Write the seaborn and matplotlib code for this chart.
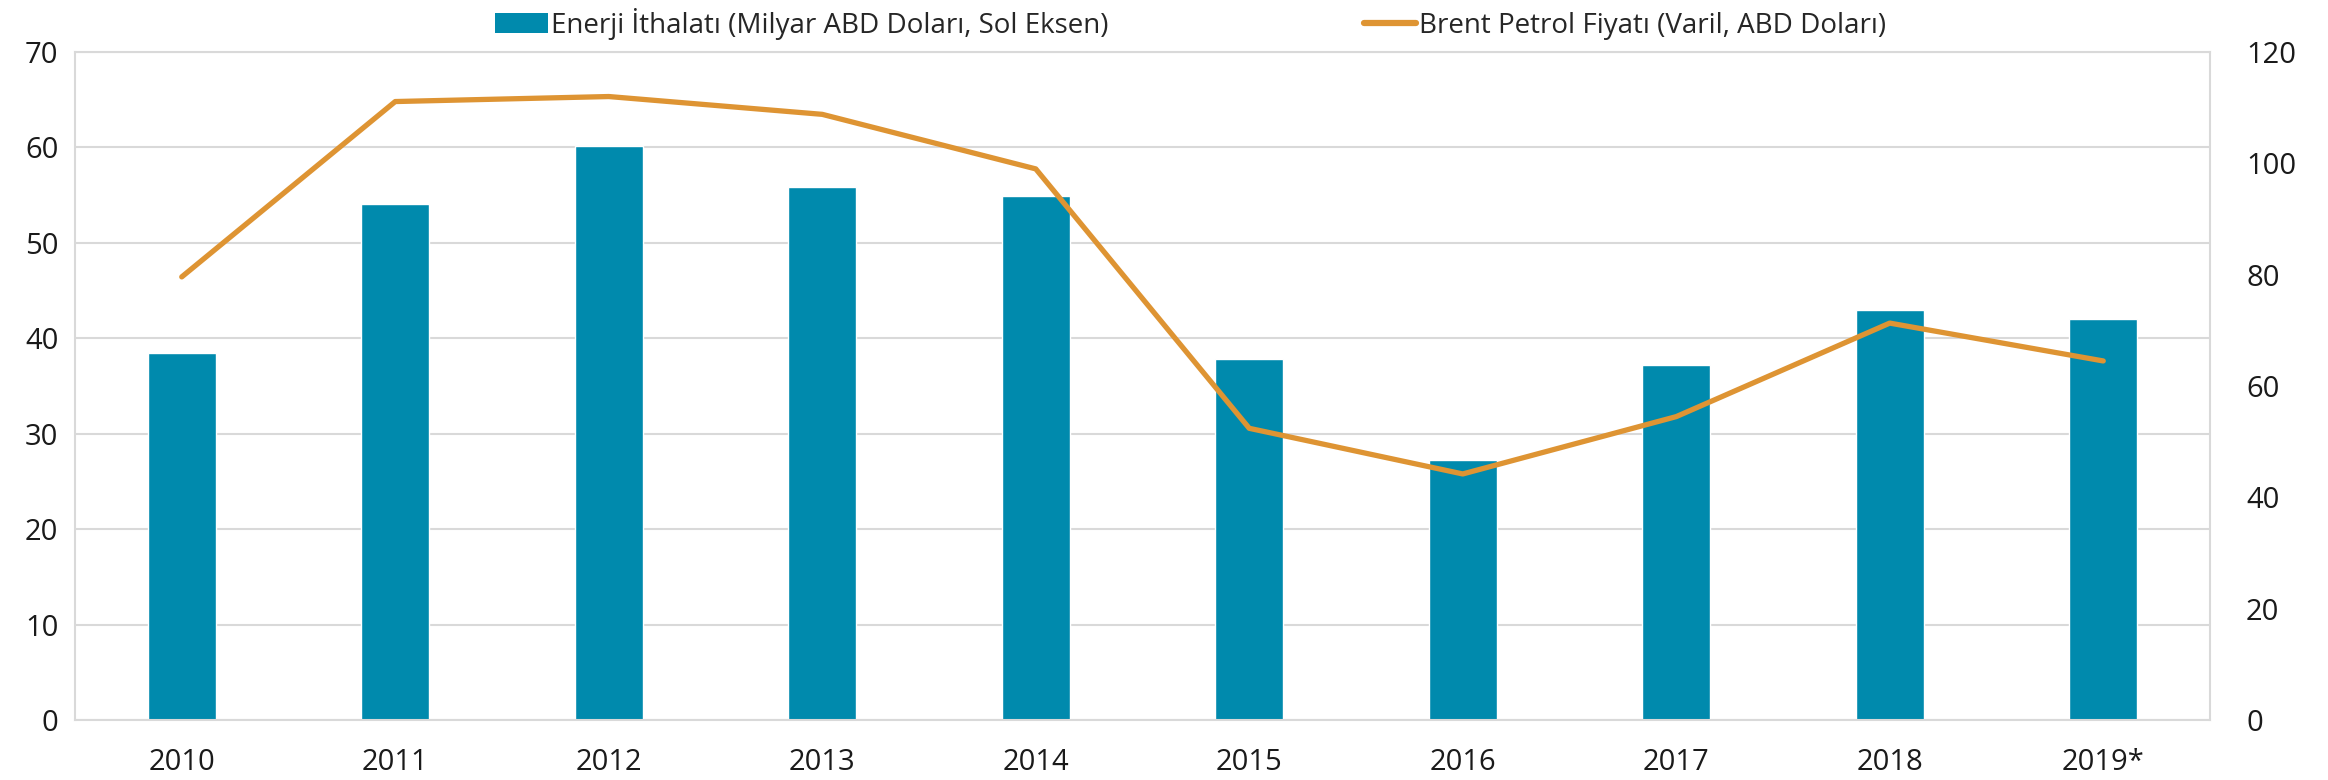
import pandas as pd
import seaborn as sns
import matplotlib.pyplot as plt
from matplotlib.patches import Patch
from matplotlib.lines import Line2D

years = ['2010', '2011', '2012', '2013', '2014', '2015', '2016', '2017', '2018', '2019*']
energy_imports = [38.5, 54.1, 60.1, 55.9, 54.9, 37.8, 27.2, 37.2, 43.0, 42.0]
brent_price = [79.6, 111.1, 112.0, 108.8, 99.0, 52.4, 44.2, 54.5, 71.3, 64.5]

bar_label = 'Enerji İthalatı (Milyar ABD Doları, Sol Eksen)'
line_label = 'Brent Petrol Fiyatı (Varil, ABD Doları)'

teal = '#008AAD'
orange = '#DE9433'
grid = '#D9D9D9'

df = pd.DataFrame({'year': years, 'energy': energy_imports, 'brent': brent_price})

sns.set_style('white')
plt.rcParams['font.family'] = ['Open Sans', 'DejaVu Sans']

fig = plt.figure(figsize=(23.28, 7.8), dpi=100)
ax = fig.add_axes([75 / 2328, 1 - 720 / 780, 2135 / 2328, 668 / 780])

sns.barplot(data=df, x='year', y='energy', color=teal, width=0.32, saturation=1, ax=ax)
ax.set_ylim(0, 70)
ax.set_yticks(range(0, 71, 10))
ax.yaxis.grid(True, color=grid, linewidth=1.5)
ax.set_axisbelow(True)
ax.set_xlabel('')
ax.set_ylabel('')
for s in ax.spines.values():
  s.set_color(grid)
  s.set_linewidth(1.5)
ax.tick_params(axis='both', labelsize=21, length=0, colors='#1a1a1a', pad=12)
ax.tick_params(axis='x', pad=20)

ax2 = ax.twinx()
sns.lineplot(data=df, x='year', y='brent', color=orange, linewidth=3.8, sort=False, ax=ax2)
ax2.set_ylim(0, 120)
ax2.set_yticks(range(0, 121, 20))
ax2.set_ylabel('')
for s in ax2.spines.values():
  s.set_visible(False)
ax2.tick_params(axis='y', labelsize=21, length=0, colors='#1a1a1a', pad=26)
ax.set_xlim(-0.5, len(years) - 0.5)

handles = [Patch(facecolor=teal, edgecolor='none'), Line2D([0], [0], color=orange, linewidth=4.5)]
fig.legend(handles, [bar_label, line_label], loc='upper left', bbox_to_anchor=(470 / 2328, 1.022),
           ncol=2, frameon=False, fontsize=20, handlelength=1.9, handletextpad=0.1,
           columnspacing=9.2)

fig.savefig('out.png', dpi=100)
